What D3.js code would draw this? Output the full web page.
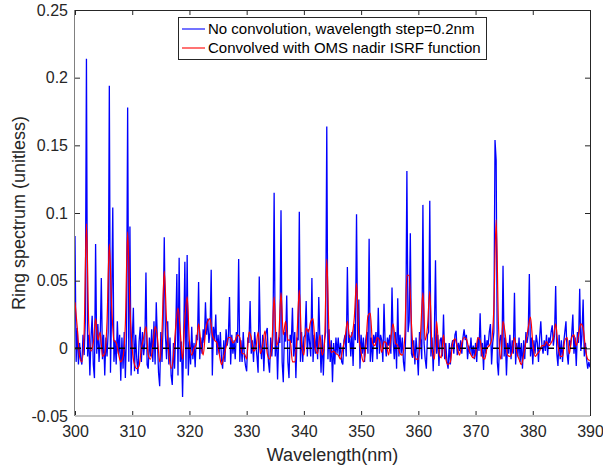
<!DOCTYPE html>
<html>
<head>
<meta charset="utf-8">
<script src="https://cdn.jsdelivr.net/npm/d3@7"></script>
<style>
  body { margin: 0; background: #fff; }
  text { font-family: "Liberation Sans", Arial, Helvetica, sans-serif; fill: #262626; }
  .tick text { font-size: 16px; }
  .axisTitle { font-size: 18px; }
  .legendText { font-size: 15px; fill: #000; }
</style>
</head>
<body>
<svg id="ring-chart"></svg>
<script>
/* ~~~~~~~~~ DATA ~~~~~~~~~ */

// wavelength grid (nm)
var blueStart = 300, blueStep = 0.2;
var redStart = 300, redStep = 0.4;

// no convolution, 0.2nm step (one row per nm: .0 .2 .4 .6 .8)
var noConvolution = [
  0.083, -0.010, 0.015, -0.012, 0.004,   // 300
  -0.008, -0.012, 0.010, -0.005, 0.020,  // 301
  0.214, -0.006, 0.010, -0.020, 0.008,   // 302
  0.024, -0.012, -0.022, 0.077, -0.004,  // 303
  0.018, -0.010, 0.006, 0.052, -0.008,   // 304
  0.010, -0.020, 0.008, -0.006, 0.012,   // 305
  0.194, -0.018, 0.030, 0.104, -0.010,   // 306
  0.006, -0.012, 0.020, -0.004, 0.010,   // 307
  -0.024, 0.008, -0.015, 0.012, -0.022,  // 308
  0.010, 0.178, -0.010, 0.090, -0.020,   // 309
  0.006, 0.030, -0.017, 0.010, -0.008,   // 310
  -0.019, 0.005, 0.016, -0.010, 0.012,   // 311
  -0.005, 0.004, 0.056, -0.012, -0.015,  // 312
  0.008, -0.006, 0.014, -0.010, 0.020,   // 313
  -0.012, 0.034, 0.006, -0.018, -0.028,  // 314
  0.012, -0.010, 0.018, 0.082, 0.010,    // 315
  -0.008, 0.020, -0.012, 0.008, -0.020,  // 316
  -0.027, 0.004, -0.015, 0.012, 0.055,   // 317
  -0.020, 0.067, -0.010, 0.005, -0.036,  // 318
  0.010, 0.064, -0.015, 0.069, -0.020,   // 319
  0.005, -0.012, 0.016, -0.008, 0.004,   // 320
  -0.014, 0.010, 0.006, 0.049, -0.008,   // 321
  0.008, -0.004, 0.014, 0.004, 0.034,    // 322
  0.010, 0.022, 0.004, 0.012, 0.058,     // 323
  -0.020, 0.016, 0.006, 0.025, -0.005,   // 324
  0.010, -0.004, 0.012, -0.008, -0.015,  // 325
  0.006, -0.010, 0.014, 0.002, 0.008,    // 326
  0.038, -0.012, 0.010, -0.004, 0.006,   // 327
  -0.008, 0.012, 0.004, 0.066, -0.010,   // 328
  0.006, -0.010, 0.012, -0.006, -0.013,  // 329
  -0.017, 0.008, 0.004, 0.035, -0.004,   // 330
  0.006, -0.010, 0.012, 0.002, -0.006,   // 331
  -0.018, 0.053, 0.004, -0.008, 0.010,   // 332
  -0.017, 0.006, 0.012, 0.015, -0.010,   // 333
  -0.018, 0.008, -0.006, 0.010, 0.115,   // 334
  -0.006, 0.012, -0.023, 0.008, 0.004,   // 335
  0.102, -0.010, -0.025, 0.012, 0.005,   // 336
  0.039, -0.010, -0.022, 0.010, 0.004,   // 337
  0.030, -0.006, 0.012, -0.022, 0.008,   // 338
  0.006, 0.101, -0.010, 0.012, -0.010,   // 339
  0.008, 0.010, 0.035, -0.006, 0.014,    // 340
  0.004, -0.006, 0.052, -0.010, 0.010,   // 341
  -0.004, 0.012, -0.008, 0.038, 0.006,   // 342
  -0.018, 0.010, -0.020, 0.006, 0.012,   // 343
  0.164, -0.008, 0.014, -0.010, 0.006,   // 344
  -0.025, 0.004, -0.012, 0.008, -0.004,  // 345
  0.008, -0.006, 0.004, -0.010, -0.012,  // 346
  0.006, 0.010, -0.006, 0.060, 0.004,    // 347
  0.010, -0.006, 0.012, -0.013, 0.018,   // 348
  0.006, 0.099, 0.004, 0.036, -0.015,    // 349
  0.010, -0.004, 0.008, -0.010, 0.006,   // 350
  0.012, -0.004, 0.081, -0.010, 0.008,   // 351
  -0.010, 0.010, 0.004, 0.012, -0.008,   // 352
  0.030, -0.004, 0.010, 0.006, -0.010,   // 353
  0.033, 0.004, -0.006, 0.008, 0.002,    // 354
  0.010, -0.004, 0.045, 0.006, -0.008,   // 355
  0.012, -0.015, 0.037, -0.006, 0.010,   // 356
  -0.004, 0.008, -0.010, -0.017, 0.012,  // 357
  0.131, 0.012, 0.020, 0.085, -0.004,    // 358
  -0.007, 0.006, -0.012, 0.008, -0.004,  // 359
  -0.020, 0.012, 0.006, -0.008, 0.106,   // 360
  0.004, -0.008, -0.015, 0.010, 0.012,   // 361
  0.109, -0.006, 0.008, -0.017, 0.010,   // 362
  0.065, -0.004, 0.010, -0.013, 0.006,   // 363
  0.008, -0.006, 0.025, -0.008, 0.004,   // 364
  -0.010, -0.015, 0.004, -0.012, 0.002,  // 365
  0.006, -0.004, 0.010, 0.013, -0.005,   // 366
  0.004, -0.002, 0.006, -0.004, 0.008,   // 367
  0.014, 0.006, 0.010, -0.008, 0.002,    // 368
  -0.004, 0.008, -0.006, 0.002, -0.008,  // 369
  0.004, -0.010, 0.008, -0.002, 0.026,   // 370
  -0.006, 0.004, -0.016, 0.010, -0.004,  // 371
  0.006, 0.002, 0.012, 0.018, -0.012,    // 372
  0.004, 0.012, 0.154, 0.139, -0.010,    // 373
  -0.020, 0.006, 0.010, -0.008, 0.061,   // 374
  -0.006, 0.008, -0.020, 0.004, -0.004,  // 375
  0.010, -0.008, 0.006, -0.004, 0.041,   // 376
  -0.012, 0.004, -0.006, 0.008, -0.010,  // 377
  0.004, -0.015, 0.006, -0.008, 0.012,   // 378
  0.004, 0.010, 0.055, -0.006, 0.008,    // 379
  -0.012, 0.006, -0.004, 0.010, 0.004,   // 380
  -0.010, 0.008, 0.020, 0.002, -0.004,   // 381
  0.006, -0.002, 0.010, -0.005, 0.008,   // 382
  0.004, 0.012, 0.017, 0.002, 0.010,     // 383
  0.046, -0.004, -0.013, 0.010, -0.008,  // 384
  0.006, -0.010, 0.004, 0.012, 0.020,    // 385
  -0.004, -0.012, 0.006, 0.002, 0.010,   // 386
  0.025, -0.004, 0.008, -0.013, 0.012,   // 387
  0.004, 0.044, -0.002, 0.010, 0.036,    // 388
  -0.006, 0.004, -0.008, -0.015, -0.010, // 389
  -0.014                                 // 390
];

// convolved with OMS nadir ISRF, 0.4nm step (one row per 2nm)
var convolved = [
  0.034, 0.015, -0.006, -0.010, 0.012,   // 300
  0.092, 0.018, -0.002, 0.004, 0.022,    // 302
  0.006, 0.012, -0.006, -0.004, 0.020,   // 304
  0.077, 0.032, 0.006, 0.004, -0.004,    // 306
  -0.010, -0.006, 0.018, 0.086, 0.030,   // 308
  0.000, -0.012, -0.015, -0.013, 0.000,  // 310
  0.008, 0.016, -0.005, -0.008, 0.002,   // 312
  0.016, 0.008, -0.010, 0.012, 0.057,    // 314
  0.020, -0.004, -0.015, -0.006, 0.016,  // 316
  0.030, 0.012, -0.008, 0.022, 0.038,    // 318
  0.005, -0.005, 0.000, 0.003, 0.018,    // 320
  0.004, -0.005, 0.012, 0.020, 0.022,    // 322
  0.010, 0.006, 0.004, -0.004, -0.012,   // 324
  -0.006, 0.001, 0.008, 0.008, 0.004,    // 326
  0.006, 0.010, 0.008, -0.004, -0.004,   // 328
  -0.008, 0.012, 0.008, -0.002, 0.000,   // 330
  0.012, -0.004, 0.002, 0.013, -0.004,   // 332
  -0.008, 0.002, 0.038, 0.002, 0.008,    // 334
  0.041, 0.010, 0.020, 0.006, 0.006,     // 336
  -0.010, -0.010, 0.010, 0.043, 0.004,   // 338
  -0.005, 0.015, 0.012, 0.020, 0.022,    // 340
  0.000, -0.004, 0.010, -0.005, 0.004,   // 342
  0.066, 0.010, -0.003, -0.002, -0.004,  // 344
  -0.005, -0.008, 0.000, 0.008, 0.020,   // 346
  0.008, 0.010, 0.022, 0.048, 0.010,     // 348
  -0.003, -0.010, 0.000, 0.024, 0.026,   // 350
  0.004, 0.002, 0.008, 0.006, -0.003,    // 352
  0.005, 0.004, -0.005, 0.008, 0.018,    // 354
  0.004, 0.002, -0.004, -0.005, 0.006,   // 356
  0.054, 0.054, 0.018, -0.005, -0.008,   // 358
  -0.008, 0.012, 0.041, 0.006, 0.016,    // 360
  0.042, 0.000, -0.008, 0.020, -0.003,   // 362
  -0.007, 0.010, -0.008, -0.012, -0.010, // 364
  0.004, 0.007, 0.001, -0.005, 0.004,    // 366
  0.008, 0.007, 0.000, -0.005, -0.007,   // 368
  -0.004, 0.008, 0.006, -0.006, -0.008,  // 370
  0.000, 0.002, 0.006, 0.030, 0.095,     // 372
  0.018, -0.008, 0.020, 0.010, -0.005,   // 374
  -0.006, -0.003, 0.008, -0.003, -0.008, // 376
  -0.012, -0.005, 0.005, 0.015, 0.023,   // 378
  0.004, -0.006, -0.004, -0.002, 0.002,  // 380
  0.002, 0.005, 0.002, 0.004, 0.008,     // 382
  0.018, 0.002, -0.006, -0.006, 0.006,   // 384
  0.008, -0.004, 0.008, 0.010, 0.002,    // 386
  0.010, 0.018, 0.015, 0.000, -0.008,    // 388
  -0.009                                 // 390
];

var xTicks = [300, 310, 320, 330, 340, 350, 360, 370, 380, 390];
var yTicks = [-0.05, 0, 0.05, 0.1, 0.15, 0.2, 0.25];
var legendLabels = ["No convolution, wavelength step=0.2nm", "Convolved with OMS nadir ISRF function"];
var seriesColors = ["#0000ff", "#ff0000"];

/* ~~~~~~~~~ SVG SETUP ~~~~~~~~~ */

var width = 603, height = 468;
var plotLeft = 75, plotRight = 590, plotTop = 10, plotBottom = 416;   // plot box in pixels

var svg = d3.select("#ring-chart").attr("width", width).attr("height", height);

var x = d3.scaleLinear().domain([300, 390]).range([plotLeft, plotRight]);
var y = d3.scaleLinear().domain([-0.05, 0.25]).range([plotBottom, plotTop]);

// turn value arrays into {wl, v} points
var bluePts = noConvolution.map(function(v, i){ return {wl: blueStart + i * blueStep, v: v}; });
var redPts = convolved.map(function(v, i){ return {wl: redStart + i * redStep, v: v}; });

svg.append("defs").append("clipPath").attr("id", "plotClip")
   .append("rect").attr("x", plotLeft).attr("y", plotTop)
   .attr("width", plotRight - plotLeft).attr("height", plotBottom - plotTop);

var plot = svg.append("g").attr("clip-path", "url(#plotClip)");

var line = d3.line()
    .x(function(d){ return x(d.wl); })
    .y(function(d){ return y(d.v); });

plot.append("path").datum(bluePts)
    .attr("d", line)
    .attr("fill", "none")
    .attr("stroke", seriesColors[0])
    .attr("stroke-width", 1.3);

plot.append("path").datum(redPts)
    .attr("d", line.curve(d3.curveMonotoneX))
    .attr("fill", "none")
    .attr("stroke", seriesColors[1])
    .attr("stroke-width", 1.2);

// dashed zero line, on top of the data
plot.append("line")
    .attr("x1", plotLeft).attr("x2", plotRight)
    .attr("y1", y(0)).attr("y2", y(0))
    .attr("stroke", "#000")
    .attr("stroke-width", 1.5)
    .attr("stroke-dasharray", "6,5");

/* ~~~~~~~~~ AXES ~~~~~~~~~ */

var tickLen = 5;

svg.append("g").attr("transform", "translate(0," + plotBottom + ")")
    .call(d3.axisBottom(x).tickValues(xTicks).tickSizeInner(-tickLen).tickSizeOuter(0).tickPadding(10));
svg.append("g").attr("transform", "translate(" + plotLeft + ",0)")
    .call(d3.axisLeft(y).tickValues(yTicks).tickFormat(function(d){ return String(+d.toFixed(2)); })
      .tickSizeInner(-tickLen).tickSizeOuter(0).tickPadding(7));
svg.append("g").attr("transform", "translate(0," + plotTop + ")")
    .call(d3.axisTop(x).tickValues(xTicks).tickSizeInner(-tickLen).tickSizeOuter(0).tickFormat(""));
svg.append("g").attr("transform", "translate(" + plotRight + ",0)")
    .call(d3.axisRight(y).tickValues(yTicks).tickSizeInner(-tickLen).tickSizeOuter(0).tickFormat(""));

svg.selectAll(".tick line").attr("stroke", "#262626");
svg.selectAll(".tick text").attr("fill", "#262626");
svg.selectAll(".domain").remove();

// box edges
svg.append("line").attr("x1", plotLeft).attr("x2", plotRight).attr("y1", plotTop + 0.5).attr("y2", plotTop + 0.5).attr("stroke", "#262626");
svg.append("line").attr("x1", plotRight + 0.5).attr("x2", plotRight + 0.5).attr("y1", plotTop).attr("y2", plotBottom).attr("stroke", "#262626");
svg.append("line").attr("x1", plotLeft - 0.5).attr("x2", plotLeft - 0.5).attr("y1", plotTop).attr("y2", plotBottom).attr("stroke", "#808080");
svg.append("line").attr("x1", plotLeft).attr("x2", plotRight).attr("y1", plotBottom).attr("y2", plotBottom)
   .attr("stroke", "#c4c4c4").attr("stroke-width", 2);

// axis titles
svg.append("text").attr("class", "axisTitle")
   .attr("x", (plotLeft + plotRight) / 2).attr("y", 461)
   .attr("text-anchor", "middle").text("Wavelength(nm)");
svg.append("text").attr("class", "axisTitle")
   .attr("transform", "translate(25," + (plotTop + plotBottom) / 2 + ") rotate(-90)")
   .attr("text-anchor", "middle").text("Ring spectrum (unitless)");

/* ~~~~~~~~~ LEGEND ~~~~~~~~~ */

var legend = svg.append("g");
legend.append("rect")
   .attr("x", 178.5).attr("y", 17.5).attr("width", 308).attr("height", 42)
   .attr("fill", "#fff").attr("stroke", "#262626");

legendLabels.forEach(function(lbl, i){
    var ly = 29 + i * 19;
    legend.append("line").attr("x1", 182).attr("x2", 205).attr("y1", ly).attr("y2", ly)
        .attr("stroke", seriesColors[i]).attr("stroke-width", 1.1);
    legend.append("text").attr("class", "legendText")
        .attr("x", 208).attr("y", ly).attr("dy", "0.35em").text(lbl);
});
</script>
</body>
</html>
